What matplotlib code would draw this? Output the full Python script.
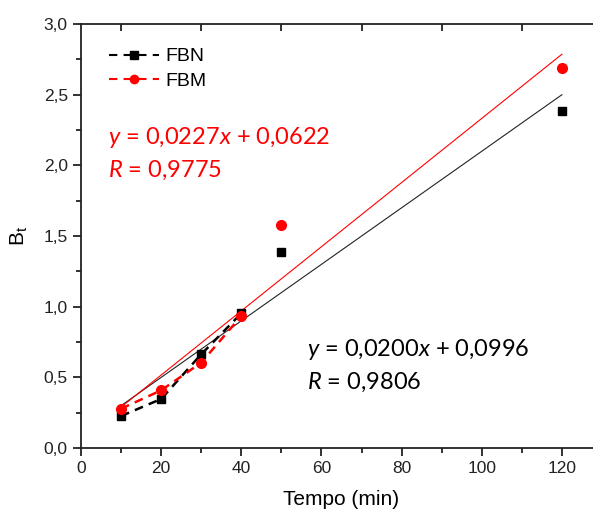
import matplotlib
matplotlib.use("Agg")
import matplotlib.pyplot as plt
from matplotlib.ticker import MultipleLocator, FuncFormatter, FixedLocator
import numpy as np

# Data
tempo = [10, 20, 30, 40, 50, 120]
fbn = [0.226, 0.347, 0.663, 0.953, 1.385, 2.385]
fbm = [0.278, 0.408, 0.604, 0.934, 1.578, 2.69]
n_connected = 4  # dashed line through first 4 points

fit_fbn = (0.0200, 0.0996)
fit_fbm = (0.0227, 0.0622)
fit_range = [10, 120]

eq_fbn = ["$y$ = 0,0200$x$ + 0,0996", "$R$ = 0,9806"]
eq_fbm = ["$y$ = 0,0227$x$ + 0,0622", "$R$ = 0,9775"]

plt.rcParams['font.family'] = ['Liberation Sans', 'DejaVu Sans']
plt.rcParams['mathtext.fontset'] = 'custom'
plt.rcParams['mathtext.it'] = 'Lato:italic'
plt.rcParams['mathtext.rm'] = 'Lato'

W, H = 593, 511
fig = plt.figure(figsize=(W/100, H/100), dpi=100)
x0, x1 = 81/W, 602/W
y0, y1 = 1-448/H, 1-24/H
ax = fig.add_axes([x0, y0, x1-x0, y1-y0])

red = '#ff0000'
xs = np.array(fit_range, dtype=float)
ax.plot(xs, fit_fbn[0]*xs + fit_fbn[1], color='#222222', lw=0.8, zorder=2)
ax.plot(xs, fit_fbm[0]*xs + fit_fbm[1], color=red, lw=0.8, zorder=2)

dash = (0, (3.5, 2.5))
ax.plot(tempo[:n_connected], fbn[:n_connected], ls=dash, color='black', lw=1.8, zorder=3)
ax.plot(tempo[:n_connected], fbm[:n_connected], ls=dash, color=red, lw=1.8, zorder=3)
ax.plot(tempo, fbn, ls='none', marker='s', ms=6.2, color='black', zorder=4)
ax.plot(tempo, fbm, ls='none', marker='o', ms=7, color=red, zorder=5)

# legend handles
hn, = ax.plot([], [], ls=(0, (4, 3)), color='black', lw=1.5, marker='s', ms=6)
hm, = ax.plot([], [], ls=(0, (4, 3)), color=red, lw=1.5, marker='o', ms=6)
leg = ax.legend([hn, hm], ['FBN', 'FBM'], loc='upper left', bbox_to_anchor=(0.02, 0.985),
                frameon=False, fontsize=14, handlelength=2.6, handletextpad=0.3,
                labelspacing=0.35)

ax.set_xlim(0, 130)
ax.set_ylim(0, 3.0)
ax.xaxis.set_major_locator(FixedLocator([0, 20, 40, 60, 80, 100, 120]))
ax.xaxis.set_minor_locator(FixedLocator([10, 30, 50, 70, 90, 110, 130]))
ax.yaxis.set_major_locator(MultipleLocator(0.5))
ax.yaxis.set_minor_locator(MultipleLocator(0.25))
ax.yaxis.set_major_formatter(FuncFormatter(lambda v, p: f"{v:.1f}".replace('.', ',')))
ax.tick_params(which='major', direction='out', length=6, width=1.3, labelsize=12.5, colors='#222222')
ax.tick_params(which='minor', direction='out', length=3.5, width=1.3, colors='#222222')
ax.spines['right'].set_visible(False)
for s in ['left', 'bottom', 'top']:
    ax.spines[s].set_linewidth(1.3)
    ax.spines[s].set_color('#222222')

# top inner ticks at odd tens
sec = ax.secondary_xaxis('top')
sec.set_xticks([10, 30, 50, 70, 90, 110])
sec.tick_params(direction='in', length=5, width=1.3, labeltop=False, colors='#222222')
sec.spines['top'].set_visible(False)

ax.set_xlabel('Tempo (min)', fontsize=15, labelpad=10)
ax.set_ylabel('B$_{\\mathregular{t}}$', fontsize=15, labelpad=10)

fig.text(108/W, 1-137/H, eq_fbm[0], color=red, fontsize=17, family='Lato', va='center')
fig.text(108/W, 1-170/H, eq_fbm[1], color=red, fontsize=17, family='Lato', va='center')
fig.text(307/W, 1-350/H, eq_fbn[0], color='black', fontsize=17, family='Lato', va='center')
fig.text(307/W, 1-382/H, eq_fbn[1], color='black', fontsize=17, family='Lato', va='center')

fig.savefig('out.png', dpi=100)
